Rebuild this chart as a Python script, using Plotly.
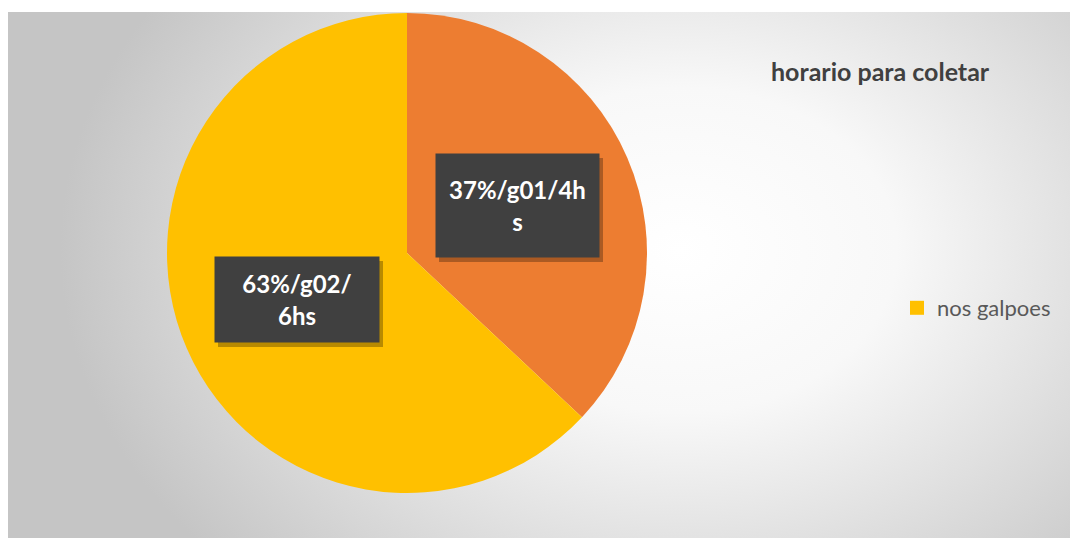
import base64
import plotly.graph_objects as go

# ---- data ----
slice_names = ["g01/4hs", "g02/6hs"]
slice_values = [37, 63]
slice_colors = ["#ED7D31", "#FFC000"]
slice_label_texts = ["37%/g01/4h<br>s", "63%/g02/<br>6hs"]
chart_title = "horario para coletar"
legend_name = "nos galpoes"

W, H = 1070, 538


def px(x):
    """screen x -> paper x"""
    return x / W


def py(y):
    """screen y -> paper y"""
    return 1 - y / H


# background gradient (chart area) as an inline SVG image, screen area x>=8, y>=12
bg_x0, bg_y0 = 8, 12
bg_w, bg_h = W - bg_x0, H - bg_y0
gcx, gcy = 680 - bg_x0, 250 - bg_y0
svg = (
    f'<svg xmlns="http://www.w3.org/2000/svg" width="{bg_w}" height="{bg_h}">'
    '<defs><radialGradient id="g" gradientUnits="userSpaceOnUse" '
    f'cx="{gcx}" cy="{gcy}" r="620" '
    f'gradientTransform="translate({gcx} {gcy}) scale(1 0.75) translate({-gcx} {-gcy})">'
    '<stop offset="0" stop-color="#ffffff"/>'
    '<stop offset="0.35" stop-color="#f8f8f8"/>'
    '<stop offset="1" stop-color="#c5c5c5"/>'
    '</radialGradient></defs>'
    f'<rect width="{bg_w}" height="{bg_h}" fill="url(#g)"/></svg>'
)
svg_uri = "data:image/svg+xml;base64," + base64.b64encode(svg.encode()).decode()

fig = go.Figure()

# pie
cx, cy, r = 407, 253, 240
fig.add_trace(go.Pie(
    labels=slice_names,
    values=slice_values,
    marker=dict(colors=slice_colors, line=dict(width=0)),
    sort=False,
    direction="clockwise",
    rotation=0,
    textinfo="none",
    hoverinfo="label+percent",
    showlegend=False,
    domain=dict(x=[px(cx - r), px(cx + r)], y=[py(cy + r), py(cy - r)]),
))

# legend entry
fig.add_trace(go.Scatter(
    x=[None], y=[None], mode="markers", name=legend_name,
    marker=dict(symbol="square", size=14, color=slice_colors[1]),
    showlegend=True,
))

# label boxes (annotations with shadow)
boxes = [(436, 154, 599, 257), (215, 257, 379, 342)]
shapes = []
annotations = []
for (x0, y0, x1, y1), txt in zip(boxes, slice_label_texts):
    shapes.append(dict(
        type="rect", xref="paper", yref="paper",
        x0=px(x0 + 3), x1=px(x1 + 4), y0=py(y1 + 5), y1=py(y0 + 4),
        fillcolor="rgba(0,0,0,0.28)", line=dict(width=0), layer="above",
    ))
    annotations.append(dict(
        xref="paper", yref="paper",
        x=px((x0 + x1) / 2), y=py((y0 + y1) / 2),
        xanchor="center", yanchor="middle",
        width=x1 - x0, height=y1 - y0, borderpad=0,
        bgcolor="#404040", showarrow=False, align="center", valign="middle",
        text=f"<b>{txt}</b>",
        font=dict(family="Lato", size=24, color="#ffffff"),
    ))

fig.update_layout(
    width=W, height=H,
    margin=dict(l=0, r=0, t=0, b=0),
    paper_bgcolor="#ffffff",
    plot_bgcolor="rgba(0,0,0,0)",
    xaxis=dict(visible=False),
    yaxis=dict(visible=False),
    images=[dict(
        source=svg_uri, xref="paper", yref="paper",
        x=px(bg_x0), y=py(bg_y0), sizex=bg_w / W, sizey=bg_h / H,
        xanchor="left", yanchor="top", sizing="stretch", layer="below",
    )],
    title=dict(
        text=f"<b>{chart_title}</b>",
        x=px(771), y=py(72), xanchor="left", yanchor="middle",
        font=dict(family="Lato", size=25, color="#404040"),
    ),
    legend=dict(
        x=px(897), y=py(308), xanchor="left", yanchor="middle",
        bgcolor="rgba(0,0,0,0)",
        font=dict(family="Lato", size=22, color="#595959"),
        itemwidth=30,
    ),
    shapes=shapes,
    annotations=annotations,
)

fig.write_html(
    "out.html",
    config={"displayModeBar": False},
    post_script="document.body.style.margin='0';document.body.style.overflow='hidden';",
)
